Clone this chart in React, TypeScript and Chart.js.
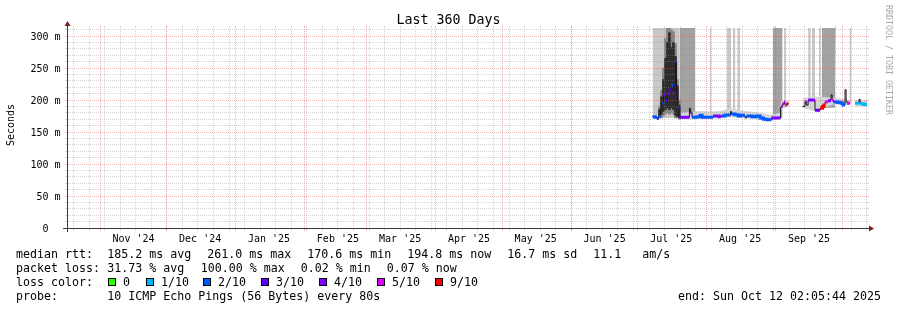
import React, { useEffect, useRef } from 'react';
import { Chart, registerables } from 'chart.js';

Chart.register(...registerables);

// ---------- time window ----------
const END_MS = Date.UTC(2025, 9, 12, 2, 5, 44);
const SPAN_DAYS = 360;
const START_MS = END_MS - SPAN_DAYS * 86400000;
const dayOf = (iso: string) => (Date.parse(iso + 'T00:00:00Z') - START_MS) / 86400000;

// ---------- text content ----------
const titleText = 'Last 360 Days';
const yTitleText = 'Seconds';
const watermarkText = 'RRDTOOL / TOBI OETIKER';
const Y_MAX = 312.5;
const yTickValues = [0, 50, 100, 150, 200, 250, 300];
const yTickLabels = ['0  ', '50 m', '100 m', '150 m', '200 m', '250 m', '300 m'];
const monthStarts = ['2024-11-01', '2024-12-01', '2025-01-01', '2025-02-01', '2025-03-01', '2025-04-01', '2025-05-01', '2025-06-01', '2025-07-01', '2025-08-01', '2025-09-01', '2025-10-01'];
const monthLabels = ["Nov '24", "Dec '24", "Jan '25", "Feb '25", "Mar '25", "Apr '25", "May '25", "Jun '25", "Jul '25", "Aug '25", "Sep '25", "Oct '25"];
const firstSunday = '2024-10-20';

const rttHead = 'median rtt:';
const rttStats = ['185.2 ms avg', '261.0 ms max', '170.6 ms min', '194.8 ms now', '16.7 ms sd', '11.1', 'am/s'];
const lossHead = 'packet loss:';
const lossStats = ['31.73 % avg', '100.00 % max', '0.02 % min', '0.07 % now'];
const colorHead = 'loss color:';
const lossLevels = [0, 1, 2, 3, 4, 5, 9];
const lossLevelLabels = ['0', '1/10', '2/10', '3/10', '4/10', '5/10', '9/10'];
const lossLevelColors = ['#26ff00', '#00b8ff', '#0059ff', '#5e00ff', '#7e00ff', '#dd00ff', '#ff0000'];
const probeHead = 'probe:';
const probeText = '10 ICMP Echo Pings (56 Bytes) every 80s';
const endText = 'end: Sun Oct 12 02:05:44 2025';

// ---------- data (x = days since window start, y = ms) ----------
const medianDay = [263.5, 264.6, 265.5, 266.2, 267.1, 267.8, 268.4, 269.3, 270.2, 271.1, 272.0, 272.7, 273.4, 273.8, 274.3, 274.7, 275.2, 275.6, 280.1, 280.6, 281.3, 283.5, 284.9, 285.8, 290.7, 293.4, 294.3, 296.1, 298.6, 299.0, 300.6, 302.0, 303.3, 305.1, 305.8, 308.3, 310.1, 311.9, 313.4, 315.0, 317.0, 321.1, 321.5, 322.0, 322.7, 323.1, 323.8, 324.7, 324.9, 331.0, 332.1, 332.8, 333.5, 336.6, 338.9, 340.0, 340.7, 341.1, 342.5, 343.8, 344.3, 344.9, 347.0, 348.3, 349.2, 350.1, 350.6, 351.0, 352.4, 352.6, 354.6, 356.4, 356.9, 358.7, 360.0];
const medianMs = [174, 173, 171, 174, 186, 195, 208, 199, 210, 216, 223, 212, 221, 260, 205, 187, 176, 173, 187, 180, 173, 174, 176, 173, 175, 174, 175, 176.5, 182, 178, 177, 175, 176, 172, 175, 174, 175, 172, 170, 169, 172, 188, 190, 194, 197, 192, 194, 194, null, 190, 197, 192, 200, 184, 187, 190, 192, 197, 199, 208, 200, 197, 196, 195, 192, 216, 198, 195, 195, null, 195, 201, 194, 193, 194];
// loss level per sample (legend level, -1 = drawn only by the dark median line)
const medianLoss = [2, 2, 3, 2, -1, 2, 4, 3, 4, 3, 2, 4, 3, 4, 3, 4, -1, 4, -1, 4, 2, 2, 2, 2, 4, 4, 2, 2, -1, 2, 2, 2, 2, -1, 2, 2, 2, 2, 2, 2, 4, -1, 4, 5, 4, 5, 9, 9, -1, -1, 4, -1, 4, 3, 9, 9, 9, 5, 4, -1, 5, 2, 2, 2, 2, -1, -1, 5, 5, -1, 1, -1, 1, 1, 1];

// smoke reaching above the graph top (light and dark shades)
const lightSmokeStart = [263.5, 289.3, 297.0, 299.7, 301.6, 322.7, 333.5, 335.1, 345.6, 352.1];
const lightSmokeEnd = [275.8, 290.0, 298.9, 300.8, 302.9, 323.6, 334.7, 336.6, 346.0, 353.0];
const lightSmokeFloor = [172, 172, 176, 177, 175, 195, 197, 200, 197, 195];
const darkSmokeStart = [275.8, 317.6, 338.5, 339.6];
const darkSmokeEnd = [282.6, 322.0, 339.1, 345.6];
const darkSmokeFloor = [172, 172, 185, 188];

// narrow smoke around the median
const haloDay = [275.9, 282.6, 284.9, 289.4, 293.9, 298.4, 302.9, 307.4, 311.9, 316.4, 320.9, 321.3, 324.7, 324.9, 331.0, 336.6, 344.7, 352.4, 352.6, 354.6, 360.0];
const haloLo = [170, 170, 171, 171, 172, 173, 172, 171, 169, 167, 170, 186, 190, null, 188, 182, 193, 192, null, 190, 190];
const haloHi = [180, 182, 183, 182, 183, 187, 184, 182, 180, 177, 180, 199, 200, null, 203, 205, 204, 200, null, 200, 200];

// dense ping spikes at the start of the data
const spikeDay = [266.6, 267.5, 268.4, 269.3, 270.2, 271.1, 272.0, 272.9, 273.8, 274.7, 275.6];
const spikeMidLo = [172, 172, 175, 178, 180, 178, 180, 178, 172, 172, 170];
const spikeMidHi = [190, 215, 250, 296, 312.5, 312.5, 310, 307, 288, 232, 200];
const spikeDarkLo = [175, 178, 182, 185, 188, 185, 188, 185, 176, 174, 172];
const spikeDarkHi = [185, 205, 232, 265, 290, 305, 282, 290, 268, 222, 192];

// ---------- styles ----------
const MONO = '"DejaVu Sans Mono", monospace';
const MINOR = 'rgba(140,140,140,0.36)';
const MAJOR = 'rgba(222,79,79,0.42)';
const AXIS = '#3a3a3a';
const ARROW = '#801f1f';

function lossColor(level: number) {
  const i = lossLevels.indexOf(level);
  return i >= 0 ? lossLevelColors[i] : '#000';
}

function bandData(starts: number[], ends: number[], floors: number[]) {
  const pts: any[] = [];
  starts.forEach((s, i) => {
    pts.push({ x: s, y: floors[i] }, { x: ends[i], y: floors[i] }, { x: ends[i], y: null });
  });
  return pts;
}

function colouredMedian() {
  const pts: any[] = [];
  const cols: string[] = [];
  const n = medianDay.length;
  for (let i = 0; i < n; i++) {
    const v = medianMs[i];
    const lv = medianLoss[i];
    if (v === null || lv < 0) continue;
    const c = lossColor(lv);
    pts.push({ x: medianDay[i], y: v });
    cols.push(c);
    if (i === n - 1) break;
    const nv = medianMs[i + 1];
    if (nv === null) {
      pts.push({ x: medianDay[i + 1], y: null });
      cols.push(c);
    } else if (medianLoss[i + 1] !== lv) {
      pts.push({ x: medianDay[i + 1], y: v });
      cols.push(c);
      pts.push({ x: medianDay[i + 1], y: null });
      cols.push(c);
    }
  }
  return { pts, cols };
}

function drawGrid(chart: any) {
  const { ctx, chartArea: a } = chart;
  const xs = chart.scales.x;
  const ys = chart.scales.y;
  const L = a.left, R = a.right, T = a.top, B = a.bottom;
  ctx.save();
  ctx.lineWidth = 1;
  const hline = (v: number, col: string) => {
    const py = Math.floor(ys.getPixelForValue(v)) + 0.5;
    ctx.strokeStyle = col;
    ctx.setLineDash([]);
    ctx.beginPath();
    ctx.moveTo(L - 2, py); ctx.lineTo(L, py);
    ctx.moveTo(R, py); ctx.lineTo(R + 2, py);
    ctx.stroke();
    ctx.setLineDash([1, 1]);
    ctx.beginPath();
    ctx.moveTo(L + 1, py); ctx.lineTo(R, py);
    ctx.stroke();
  };
  const vline = (d: number, col: string) => {
    const px = Math.floor(xs.getPixelForValue(d)) + 0.5;
    ctx.strokeStyle = col;
    ctx.setLineDash([]);
    ctx.beginPath();
    ctx.moveTo(px, B + 1); ctx.lineTo(px, B + 3);
    ctx.moveTo(px, T); ctx.lineTo(px, T - 2);
    ctx.stroke();
    ctx.setLineDash([1, 1]);
    ctx.beginPath();
    ctx.moveTo(px, B); ctx.lineTo(px, T);
    ctx.stroke();
  };
  for (let v = 10; v < Y_MAX; v += 10) if (v % 50 !== 0) hline(v, MINOR);
  for (let d = dayOf(firstSunday); d < SPAN_DAYS; d += 7) vline(d, MINOR);
  for (let v = 50; v < Y_MAX; v += 50) hline(v, MAJOR);
  monthStarts.forEach((m) => {
    const d = dayOf(m);
    if (d > 0 && d < SPAN_DAYS) vline(d, MAJOR);
  });
  ctx.restore();
}

function drawFrame(chart: any) {
  const { ctx, chartArea: a } = chart;
  const xs = chart.scales.x;
  const ys = chart.scales.y;
  const L = a.left, R = a.right, T = a.top, B = a.bottom;
  ctx.save();
  ctx.setLineDash([]);
  ctx.lineWidth = 1;
  ctx.strokeStyle = AXIS;
  ctx.beginPath();
  ctx.moveTo(L - 4, B + 0.5); ctx.lineTo(R + 4, B + 0.5);
  ctx.moveTo(L + 0.5, B + 4); ctx.lineTo(L + 0.5, T - 4);
  ctx.stroke();
  ctx.fillStyle = ARROW;
  ctx.beginPath();
  ctx.moveTo(R + 2, B + 0.5 - 3); ctx.lineTo(R + 2, B + 0.5 + 3); ctx.lineTo(R + 7, B + 0.5); ctx.closePath();
  ctx.fill();
  ctx.beginPath();
  ctx.moveTo(L + 0.5 - 3, T - 2); ctx.lineTo(L + 0.5 + 3, T - 2); ctx.lineTo(L + 0.5, T - 7); ctx.closePath();
  ctx.fill();

  ctx.fillStyle = '#000';
  // y tick labels
  ctx.font = `10px ${MONO}`;
  ctx.textAlign = 'right';
  ctx.textBaseline = 'alphabetic';
  yTickValues.forEach((v, i) => {
    const py = Math.floor(ys.getPixelForValue(v));
    ctx.fillText(yTickLabels[i], L - 6.5, py + 4);
  });
  // x labels (mid-month)
  ctx.textAlign = 'center';
  monthStarts.forEach((m, i) => {
    const d = dayOf(m) + 15;
    if (d <= 0 || d >= SPAN_DAYS) return;
    ctx.fillText(monthLabels[i], xs.getPixelForValue(d), B + 13.5);
  });
  // title
  ctx.font = `13.3px ${MONO}`;
  ctx.fillText(titleText, chart.width / 2, 23.5);
  // y title
  ctx.save();
  ctx.font = `10px ${MONO}`;
  ctx.translate(11, (T + B) / 2 - 3);
  ctx.rotate(-Math.PI / 2);
  ctx.textBaseline = 'middle';
  ctx.fillText(yTitleText, 0, 0);
  ctx.restore();
  // watermark
  ctx.save();
  ctx.fillStyle = '#a8a8a8';
  ctx.font = `8.3px ${MONO}`;
  ctx.translate(888, 60);
  ctx.rotate(Math.PI / 2);
  ctx.textBaseline = 'middle';
  ctx.textAlign = 'center';
  ctx.fillText(watermarkText, 0, 0);
  ctx.restore();

  // legend
  ctx.font = `11.63px ${MONO}`;
  ctx.textAlign = 'left';
  ctx.textBaseline = 'alphabetic';
  ctx.fillStyle = '#000';
  const rowY = [258, 272, 286, 300];
  const head = 16;
  const rttX = [107.3, 207.3, 307.3, 407.3, 507.3, 593.3, 642.3];
  const lossX = [107.3, 200.7, 300.7, 386.7];
  const boxX = [108, 146, 203, 261, 319, 377, 435];
  ctx.fillText(rttHead, head, rowY[0]);
  rttStats.forEach((s, i) => ctx.fillText(s, rttX[i], rowY[0]));
  ctx.fillText(lossHead, head, rowY[1]);
  lossStats.forEach((s, i) => ctx.fillText(s, lossX[i], rowY[1]));
  ctx.fillText(colorHead, head, rowY[2]);
  lossLevels.forEach((_, i) => {
    ctx.fillStyle = lossLevelColors[i];
    ctx.fillRect(boxX[i] + 0.5, 278.5, 7, 7);
    ctx.strokeStyle = '#000';
    ctx.strokeRect(boxX[i] + 0.5, 278.5, 7, 7);
    ctx.fillStyle = '#000';
    ctx.fillText(lossLevelLabels[i], boxX[i] + 15, rowY[2]);
  });
  ctx.fillText(probeHead, head, rowY[3]);
  ctx.fillText(probeText, 107.3, rowY[3]);
  ctx.textAlign = 'right';
  ctx.fillText(endText, 881, rowY[3]);
  ctx.restore();
}

export default function App() {
  const ref = useRef<HTMLCanvasElement>(null);
  useEffect(() => {
    const canvas = ref.current as HTMLCanvasElement;
    const coloured = colouredMedian();
    const plugin = {
      id: 'rrdDecor',
      beforeDatasetDraw(chart: any, args: any) {
        if (chart.data.datasets[args.index].label === 'median') drawGrid(chart);
      },
      afterDraw(chart: any) {
        drawFrame(chart);
      },
    };
    const chart = new Chart(canvas, {
      type: 'line',
      data: {
        datasets: [
          {
            label: 'light smoke', data: bandData(lightSmokeStart, lightSmokeEnd, lightSmokeFloor),
            borderWidth: 0, borderColor: 'rgba(0,0,0,0)', backgroundColor: '#c8c8c8', fill: 'end',
            pointRadius: 0, spanGaps: false, order: 20,
          },
          {
            label: 'dark smoke', data: bandData(darkSmokeStart, darkSmokeEnd, darkSmokeFloor),
            borderWidth: 0, borderColor: 'rgba(0,0,0,0)', backgroundColor: '#a2a2a2', fill: 'end',
            pointRadius: 0, spanGaps: false, order: 19,
          },
          {
            label: 'halo lo', data: haloDay.map((d, i) => ({ x: d, y: haloLo[i] })),
            borderWidth: 0, borderColor: 'rgba(0,0,0,0)', fill: false, pointRadius: 0, order: 18,
          },
          {
            label: 'halo hi', data: haloDay.map((d, i) => ({ x: d, y: haloHi[i] })),
            borderWidth: 0, borderColor: 'rgba(0,0,0,0)', backgroundColor: '#d6d6d6', fill: '-1',
            pointRadius: 0, order: 17,
          },
          {
            type: 'bar', label: 'spike mid', data: spikeDay.map((d, i) => ({ x: d, y: [spikeMidLo[i], spikeMidHi[i]] })),
            backgroundColor: '#858585', barThickness: 2, grouped: false, borderWidth: 0, order: 16,
          },
          {
            type: 'bar', label: 'spike dark', data: spikeDay.map((d, i) => ({ x: d, y: [spikeDarkLo[i], spikeDarkHi[i]] })),
            backgroundColor: '#2c2c2c', barThickness: 2, grouped: false, borderWidth: 0, order: 15,
          },
          {
            label: 'median', data: medianDay.map((d, i) => ({ x: d, y: medianMs[i] })),
            borderColor: '#1a1a1a', borderWidth: 1, stepped: 'before', fill: false, pointRadius: 0,
            spanGaps: false, order: 2,
          },
          {
            label: 'median loss', data: coloured.pts,
            borderColor: '#0059ff', borderWidth: 3, stepped: 'before', fill: false, pointRadius: 0,
            spanGaps: false, order: 1,
            segment: { borderColor: (c: any) => coloured.cols[c.p0DataIndex] },
          },
        ] as any,
      },
      options: {
        animation: false,
        responsive: false,
        devicePixelRatio: 1,
        events: [],
        layout: { padding: { left: 67, top: 28, right: 30, bottom: 82 } },
        plugins: { legend: { display: false }, tooltip: { enabled: false }, title: { display: false } },
        scales: {
          x: { type: 'linear', min: 0, max: SPAN_DAYS, display: false, offset: false },
          y: { type: 'linear', min: 0, max: Y_MAX, display: false },
        },
        elements: { point: { radius: 0 } },
      } as any,
      plugins: [plugin],
    });
    return () => chart.destroy();
  }, []);
  return (
    <div style={{ position: 'absolute', left: 0, top: 0, width: 897, height: 310, background: '#fff' }}>
      <canvas ref={ref} width={897} height={310} style={{ display: 'block' }} />
    </div>
  );
}
